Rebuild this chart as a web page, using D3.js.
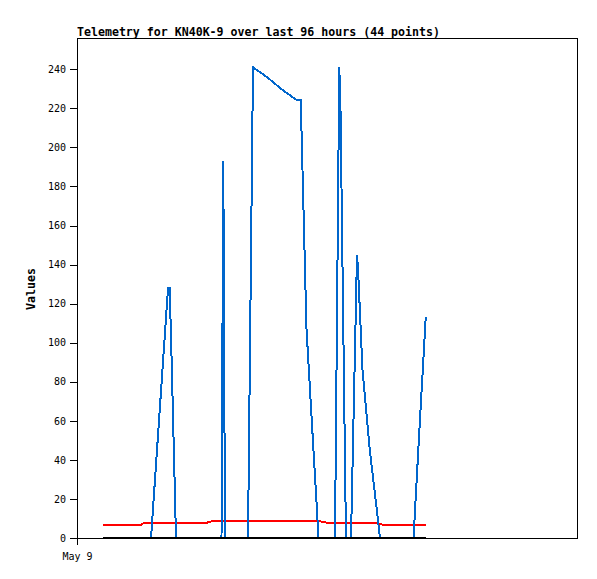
<!DOCTYPE html>
<html><head><meta charset="utf-8">
<script src="https://cdn.jsdelivr.net/npm/d3@7"></script>
<style>body{margin:0;background:#fff}svg{display:block}</style>
</head><body><svg id="c" width="597" height="579"></svg>
<script>
const title = "Telemetry for KN40K-9 over last 96 hours (44 points)";
const yLabel = "Values";
const times = [
 "2024-05-09 07:29","2024-05-09 12:23","2024-05-09 18:26","2024-05-09 19:23","2024-05-09 21:19",
 "2024-05-10 02:13","2024-05-10 02:42","2024-05-10 03:16","2024-05-10 04:31","2024-05-10 09:07",
 "2024-05-10 13:32","2024-05-10 15:15","2024-05-10 17:37","2024-05-10 18:08","2024-05-10 18:37",
 "2024-05-11 01:15","2024-05-11 02:41","2024-05-11 06:43","2024-05-11 10:45","2024-05-11 15:04",
 "2024-05-11 16:26","2024-05-11 18:06","2024-05-11 19:41","2024-05-11 21:13","2024-05-11 21:33",
 "2024-05-11 22:16","2024-05-11 23:43","2024-05-12 02:18","2024-05-12 03:32","2024-05-12 03:53",
 "2024-05-12 05:28","2024-05-12 06:55","2024-05-12 08:38","2024-05-12 08:56","2024-05-12 10:13",
 "2024-05-12 12:23","2024-05-12 13:15","2024-05-12 14:07","2024-05-12 15:16","2024-05-12 16:13",
 "2024-05-12 20:27","2024-05-13 00:55","2024-05-13 02:38","2024-05-13 04:26"
];
const seriesBlue = [
 0,0,0,0,0, 128,128,90,0,0,
 0,0,0,193,0, 0,241,236,230,224.5,
 224.5,107,58,11,0, 0,0,0,241,220,
 0,0,145,138,86, 44,31,18,0,0,
 0,0,56,113
];
const seriesRed = [
 6.7,6.7,6.7,7.9,7.9, 7.9,7.9,7.9,7.9,7.9,
 7.9,8.8,8.8,8.8,8.8, 8.8,8.8,8.8,8.8,8.8,
 8.8,8.8,8.8,8.8,8.7, 8.4,7.9,7.9,7.9,7.9,
 7.9,7.9,7.9,7.9,7.9, 7.9,7.9,7.9,7.2,6.7,
 6.7,6.7,6.7,6.7
];
const seriesBlack = [
 0,0,0,0,0, 0,0,0,0,0, 0,0,0,0,0, 0,0,0,0,0, 0,0,0,0,0,
 0,0,0,0,0, 0,0,0,0,0, 0,0,0,0,0, 0,0,0,0
];
const yTicks = [0,20,40,60,80,100,120,140,160,180,200,220,240];
const xTickTimes = ["2024-05-09 00:00"];
const xTickLabels = ["May 9"];
const xDomain = ["2024-05-09 00:00","2024-05-15 00:00"];
const yDomain = [0,256];

const parse = d3.timeParse("%Y-%m-%d %H:%M");
const T = times.map(parse);
const svg = d3.select("#c");
const L=77, R=577, TOP=38, B=538;
const x = d3.scaleTime().domain(xDomain.map(parse)).range([L,R]);
const y = d3.scaleLinear().domain(yDomain).range([B,TOP]);

svg.append("rect").attr("x",L+0.5).attr("y",TOP+0.5).attr("width",R-L).attr("height",B-TOP)
  .attr("fill","none").attr("stroke","#000").attr("stroke-width",1).attr("shape-rendering","crispEdges");

const yAxis = d3.axisLeft(y).tickValues(yTicks).tickSize(7).tickPadding(4).tickFormat(d3.format("d"));
const gy = svg.append("g").attr("transform",`translate(${L},0)`).call(yAxis);
gy.select(".domain").remove();
gy.selectAll("line").attr("shape-rendering","crispEdges");
gy.selectAll("text").attr("font-family","DejaVu Sans Mono").attr("font-size","10px").attr("fill","#000");

const xAxis = d3.axisBottom(x).tickValues(xTickTimes.map(parse)).tickSize(7).tickPadding(8)
  .tickFormat((d,i)=>xTickLabels[i]);
const gx = svg.append("g").attr("transform",`translate(0,${B})`).call(xAxis);
gx.select(".domain").remove();
gx.selectAll("line").attr("shape-rendering","crispEdges");
gx.selectAll("text").attr("font-family","DejaVu Sans Mono").attr("font-size","10px").attr("fill","#000");

svg.append("text").attr("x",L).attr("y",35.5).text(title)
  .attr("font-family","DejaVu Sans Mono").attr("font-weight","bold").attr("font-size","11.6px");
svg.append("text").attr("transform",`translate(35,289) rotate(-90)`).attr("text-anchor","middle")
  .text(yLabel).attr("font-family","DejaVu Sans Mono").attr("font-weight","bold").attr("font-size","11.6px");

const series = [
  {vals: seriesRed, color:"#ff0000"},
  {vals: seriesBlue, color:"#0066cc"},
  {vals: seriesBlack, color:"#000000"}
];
const line = d3.line().x(d=>x(d[0])).y(d=>y(d[1]));
series.forEach(s=>{
  svg.append("path").datum(T.map((t,i)=>[t,s.vals[i]])).attr("d",line)
    .attr("fill","none").attr("stroke",s.color).attr("stroke-width",2)
    .attr("stroke-linejoin","miter").attr("shape-rendering","crispEdges");
});
</script></body></html>
